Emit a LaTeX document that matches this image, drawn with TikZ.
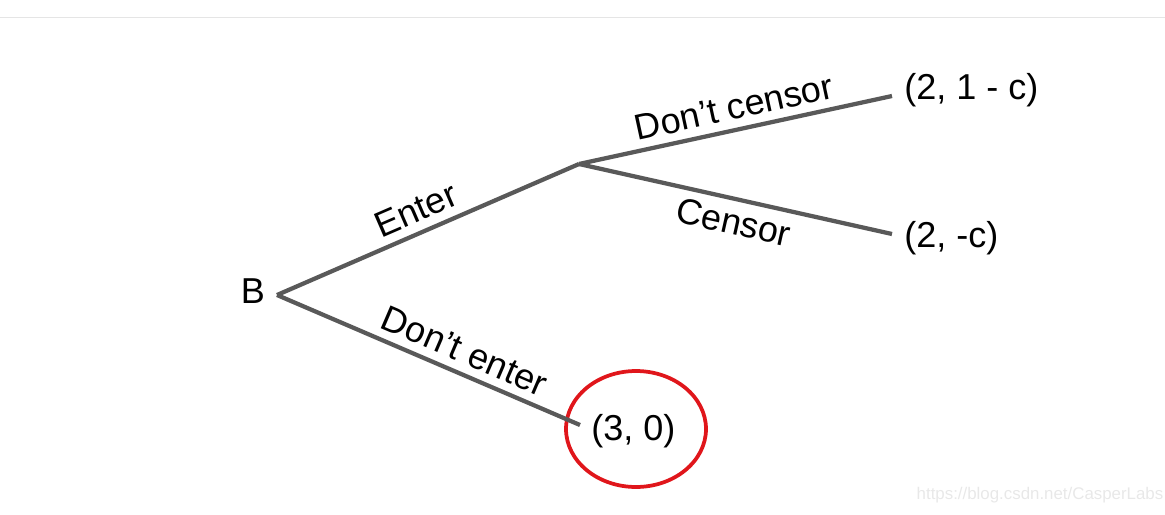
\documentclass[tikz,border=0pt]{standalone}
\usepackage{fontspec}
\setmainfont{Liberation Sans}
\usepackage{tikz}
\usetikzlibrary{shapes.geometric}

\definecolor{branchgray}{HTML}{595959}
\definecolor{circlered}{HTML}{E0161B}

\begin{document}
\begin{tikzpicture}[x=0.02cm, y=-0.02cm, font=\fontsize{20.5}{24}\selectfont]
\tikzstyle{branch} = [draw, line width=0.085cm, branchgray]
\tikzstyle{payoff} = [anchor=west, inner sep=0pt]
\tikzstyle{move} = [sloped, text=black, inner sep=4.5pt]

\useasboundingbox (0,0) rectangle (1165,514);
\draw[gray!20, line width=0.03cm] (0,17.5) -- (1165,17.5);

% decision points and ends
\node (B) at (253,291) {B};
\coordinate (root) at (277,295);
\coordinate (mid) at (579,164);
\coordinate (endA) at (892,96);
\coordinate (endB) at (892,234);
\coordinate (endC) at (580,425);

\node [payoff] (pA) at (904,90) {(2, 1 - c)};
\node [payoff] (pB) at (904,238) {(2, -c)};
\node [payoff] (pC) at (591,431) {(3, 0)};
\node [draw=circlered, line width=0.075cm, ellipse, minimum width=2.8cm, minimum height=2.32cm] (ring) at (636,429) {};

\path [branch] (root) -- node[move, above, pos=0.49] {Enter} (mid);
\path [branch] (mid) -- node[move, above, pos=0.51] {Don’t censor} (endA);
\path [branch] (mid) -- node[move, below, pos=0.51] {Censor} (endB);
\path [branch] (root) -- node[move, above, pos=0.59] {Don’t enter} (endC);

\node [text=gray!18, font=\fontsize{9.6}{11}\selectfont] (mark) at (1040,495) {https://blog.csdn.net/CasperLabs};
\end{tikzpicture}
\end{document}
